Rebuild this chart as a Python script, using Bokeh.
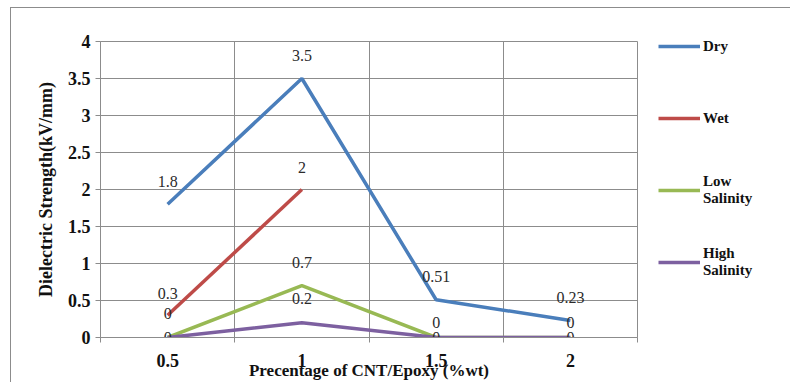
from bokeh.plotting import figure
from bokeh.models import (FixedTicker, Legend, LegendItem, ColumnDataSource, Range1d)
from bokeh.core.properties import value
from bokeh.embed import file_html
from bokeh.resources import INLINE

# ---- data ----
x_cats = [0.5, 1.0, 1.5, 2.0]
x_tick_labels = {0.5: "0.5", 1.0: "1", 1.5: "1.5", 2.0: "2"}
dry = [1.8, 3.5, 0.51, 0.23]
wet_x = [0.5, 1.0]
wet = [0.3, 2.0]
low_salinity = [0.0, 0.7, 0.0, 0.0]
high_salinity = [0.0, 0.2, 0.0, 0.0]
dry_labels = ["1.8", "3.5", "0.51", "0.23"]
wet_labels = ["0.3", "2"]
low_labels = ["0", "0.7", "0", "0"]
high_labels = ["0", "0.2", "0", "0"]

# ---- style ----
SERIF = "Liberation Serif"
C_DRY, C_WET, C_LOW, C_HIGH = "#4A7EBB", "#BE4B48", "#98B954", "#7D60A0"
GRID = "#8C8C8C"

p = figure(frame_width=537, frame_height=296, output_backend="svg", toolbar_location=None,
           x_range=Range1d(0.25, 2.25), y_range=Range1d(0, 4),
           min_border_left=89, min_border_right=100, min_border_top=33, min_border_bottom=40)
p.styles = {"margin-left": "10px", "margin-top": "7px",
            "border-left": "1px solid #8C8C8C", "border-top": "1px solid #8C8C8C"}
p.background_fill_color = "white"
p.border_fill_color = "white"
p.outline_line_color = GRID
p.outline_line_width = 1

# axes
p.xaxis.ticker = FixedTicker(ticks=x_cats, minor_ticks=[0.25, 0.75, 1.25, 1.75, 2.25])
p.xaxis.major_label_overrides = x_tick_labels
p.xaxis.major_tick_out = 0
p.xaxis.major_tick_in = 0
p.xaxis.minor_tick_out = 5
p.xaxis.minor_tick_in = 0
p.xaxis.major_label_standoff = 11
p.xaxis.axis_label = "Precentage of CNT/Epoxy (%wt)"
p.xaxis.axis_label_standoff = -9
p.yaxis.ticker = FixedTicker(ticks=[0, 0.5, 1, 1.5, 2, 2.5, 3, 3.5, 4], minor_ticks=[])
p.yaxis.major_label_overrides = {0: "0", 0.5: "0.5", 1: "1", 1.5: "1.5", 2: "2",
                                 2.5: "2.5", 3: "3", 3.5: "3.5", 4: "4"}
p.yaxis.major_tick_out = 5
p.yaxis.major_tick_in = 0
p.yaxis.minor_tick_out = 0
p.yaxis.major_label_standoff = 5
p.yaxis.axis_label = "Dielectric Strength(kV/mm)"
p.yaxis.axis_label_standoff = 9
for ax in (p.xaxis, p.yaxis):
    ax.axis_line_color = GRID
    ax.major_tick_line_color = GRID
    ax.minor_tick_line_color = GRID
    ax.major_label_text_font = SERIF
    ax.major_label_text_font_style = "bold"
    ax.major_label_text_font_size = "18px"
    ax.major_label_text_color = "#111111"
    ax.axis_label_text_font = SERIF
    ax.axis_label_text_font_style = "bold"
    ax.axis_label_text_font_size = "17px"
    ax.axis_label_text_color = "#111111"
p.yaxis.axis_label_text_font_size = "18px"

p.xgrid.ticker = FixedTicker(ticks=[0.75, 1.25, 1.75])
p.ygrid.ticker = FixedTicker(ticks=[0.5, 1, 1.5, 2, 2.5, 3, 3.5])
for g in (p.xgrid, p.ygrid):
    g.grid_line_color = GRID
    g.grid_line_width = 1

# lines
r_dry = p.line(x_cats, dry, line_color=C_DRY, line_width=3.5)
r_wet = p.line(wet_x, wet, line_color=C_WET, line_width=3.5)
r_low = p.line(x_cats, low_salinity, line_color=C_LOW, line_width=3.5)
r_high = p.line(x_cats, high_salinity, line_color=C_HIGH, line_width=3.5)

# data labels (pixel offsets are styling)
def labels(xs, ys, texts, offsets):
    src = ColumnDataSource(dict(x=xs, y=ys, t=texts, dy=offsets))
    p.text(x="x", y="y", text="t", y_offset="dy", source=src,
           text_align="center", text_baseline="middle",
           text_font=value(SERIF), text_font_size="16px", text_color="#2b2b2b")

labels(x_cats, dry, dry_labels, [-23, -23, -23, -23])
labels(wet_x, wet, wet_labels, [-22, -22])
labels(x_cats, low_salinity, low_labels, [-24, -23, -15, -15])
labels(x_cats, high_salinity, high_labels, [0, -24, 0, 0])

# legend in the right panel
legend = Legend(items=[LegendItem(label="Dry", renderers=[r_dry]),
                       LegendItem(label="Wet", renderers=[r_wet]),
                       LegendItem(label="Low\nSalinity", renderers=[r_low]),
                       LegendItem(label="High\nSalinity", renderers=[r_high])],
                location=(21, 57), padding=0, margin=0, spacing=36,
                border_line_alpha=0, background_fill_alpha=0,
                glyph_width=42, glyph_height=16, label_height=36, label_width=70,
                label_standoff=3,
                label_text_font=SERIF, label_text_font_style="bold",
                label_text_font_size="15px", label_text_color="#111111")
p.add_layout(legend, "right")

open("out.html", "w").write(file_html(p, INLINE))
